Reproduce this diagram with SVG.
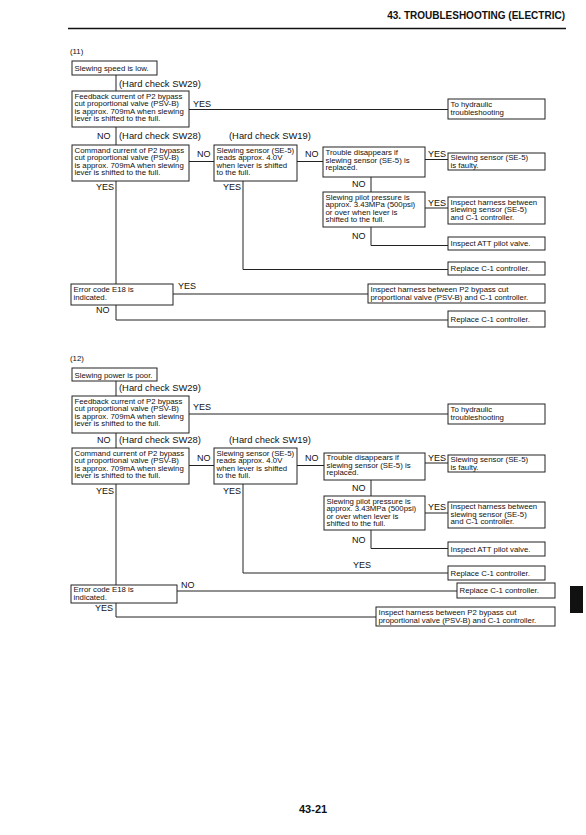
<svg xmlns="http://www.w3.org/2000/svg" width="586" height="835" viewBox="0 0 586 835">
<style>
.box{fill:#fff;stroke:#222;stroke-width:1}
.t{font-family:"Liberation Sans",Arial,sans-serif;font-size:7.8px;fill:#111}
.lbl{font-family:"Liberation Sans",Arial,sans-serif;font-size:9px;fill:#111}
.hc{font-family:"Liberation Sans",Arial,sans-serif;font-size:9.4px;fill:#111}
.conn{fill:none;stroke:#222;stroke-width:1}
.hdr{font-family:"Liberation Sans",Arial,sans-serif;font-weight:bold;fill:#111}
</style>
<rect width="586" height="835" fill="#fff"/>
<g id="header">
<text class="hdr" x="565" y="19" font-size="10" text-anchor="end">43. TROUBLESHOOTING (ELECTRIC)</text>
<line x1="68" y1="28.5" x2="566" y2="28.5" stroke="#111" stroke-width="1.5"/>
</g>
<g id="connectors">
<!-- section 11 -->
<path class="conn" d="M116,75V91"/>
<path class="conn" d="M189,109.5H448"/>
<path class="conn" d="M116,127V145"/>
<path class="conn" d="M189,161.5H214"/>
<path class="conn" d="M297,161.5H323"/>
<path class="conn" d="M425,159.5H448"/>
<path class="conn" d="M371,177V192"/>
<path class="conn" d="M425,208H448"/>
<path class="conn" d="M371,227V245.5H448"/>
<path class="conn" d="M243,181V269.5H448"/>
<path class="conn" d="M116,181V284"/>
<path class="conn" d="M173,294H368"/>
<path class="conn" d="M116,305V320H448"/>
<!-- section 12 -->
<path class="conn" d="M116,381V396"/>
<path class="conn" d="M189,414H448"/>
<path class="conn" d="M116,433V448"/>
<path class="conn" d="M189,465.5H214"/>
<path class="conn" d="M297,465.5H324"/>
<path class="conn" d="M425,463H448"/>
<path class="conn" d="M371,480V496"/>
<path class="conn" d="M425,513H448"/>
<path class="conn" d="M371,530V548.5H448"/>
<path class="conn" d="M243,484V573H448"/>
<path class="conn" d="M116,484V585"/>
<path class="conn" d="M177,591H457"/>
<path class="conn" d="M116,603V617H376"/>
</g>
<g id="labels">
<text class="t" x="70" y="54">(11)</text>
<text class="hc" x="119" y="87">(Hard check SW29)</text>
<text class="lbl" x="193" y="106.5">YES</text>
<text class="lbl" x="97" y="139">NO</text>
<text class="hc" x="119" y="139">(Hard check SW28)</text>
<text class="hc" x="229" y="139">(Hard check SW19)</text>
<text class="lbl" x="197" y="157">NO</text>
<text class="lbl" x="305" y="157">NO</text>
<text class="lbl" x="428" y="157">YES</text>
<text class="lbl" x="352" y="187">NO</text>
<text class="lbl" x="428" y="206">YES</text>
<text class="lbl" x="352" y="239">NO</text>
<text class="lbl" x="96" y="190">YES</text>
<text class="lbl" x="223" y="190">YES</text>
<text class="lbl" x="178" y="288.5">YES</text>
<text class="lbl" x="96" y="313">NO</text>

<text class="t" x="70" y="361">(12)</text>
<text class="hc" x="119" y="391">(Hard check SW29)</text>
<text class="lbl" x="193" y="410">YES</text>
<text class="lbl" x="97" y="443">NO</text>
<text class="hc" x="119" y="443">(Hard check SW28)</text>
<text class="hc" x="229" y="443">(Hard check SW19)</text>
<text class="lbl" x="197" y="461">NO</text>
<text class="lbl" x="305" y="461">NO</text>
<text class="lbl" x="428" y="460.5">YES</text>
<text class="lbl" x="352" y="491">NO</text>
<text class="lbl" x="428" y="510">YES</text>
<text class="lbl" x="352" y="543">NO</text>
<text class="lbl" x="96" y="494">YES</text>
<text class="lbl" x="223" y="494">YES</text>
<text class="lbl" x="353" y="568">YES</text>
<text class="lbl" x="181" y="588">NO</text>
<text class="lbl" x="95" y="611">YES</text>
</g>

<!-- Section 11 nodes -->
<g id="s11-start"><rect class="box" x="72" y="61" width="85" height="14"/><text class="t" x="74.5" y="71">Slewing speed is low.</text></g>
<g id="s11-feedback"><rect class="box" x="72" y="91" width="117" height="36"/>
<text class="t" x="74.5" y="98.5">Feedback current of P2 bypass</text>
<text class="t" x="74.5" y="106">cut proportional valve (PSV-B)</text>
<text class="t" x="74.5" y="113.5">is approx. 709mA when slewing</text>
<text class="t" x="74.5" y="121">lever is shifted to the full.</text></g>
<g id="s11-hydraulic"><rect class="box" x="448" y="99" width="97" height="20"/>
<text class="t" x="450.5" y="106.5">To hydraulic</text>
<text class="t" x="450.5" y="114.5">troubleshooting</text></g>
<g id="s11-command"><rect class="box" x="72" y="145" width="117" height="36"/>
<text class="t" x="74.5" y="152.5">Command current of P2 bypass</text>
<text class="t" x="74.5" y="160">cut proportional valve (PSV-B)</text>
<text class="t" x="74.5" y="167.5">is approx. 709mA when slewing</text>
<text class="t" x="74.5" y="175">lever is shifted to the full.</text></g>
<g id="s11-sensor"><rect class="box" x="214" y="145" width="83" height="36"/>
<text class="t" x="216.5" y="152.5">Slewing sensor (SE-5)</text>
<text class="t" x="216.5" y="160">reads approx. 4.0V</text>
<text class="t" x="216.5" y="167.5">when lever is shifted</text>
<text class="t" x="216.5" y="175">to the full.</text></g>
<g id="s11-trouble"><rect class="box" x="323" y="147" width="102" height="30"/>
<text class="t" x="325.5" y="155">Trouble disappears if</text>
<text class="t" x="325.5" y="162.5">slewing sensor (SE-5) is</text>
<text class="t" x="325.5" y="170">replaced.</text></g>
<g id="s11-faulty"><rect class="box" x="448" y="153" width="97" height="17"/>
<text class="t" x="450.5" y="160">Slewing sensor (SE-5)</text>
<text class="t" x="450.5" y="167.5">is faulty.</text></g>
<g id="s11-pilot"><rect class="box" x="323" y="192" width="102" height="35"/>
<text class="t" x="325.5" y="199.5">Slewing pilot pressure is</text>
<text class="t" x="325.5" y="207">approx. 3.43MPa (500psi)</text>
<text class="t" x="325.5" y="214.5">or over when lever is</text>
<text class="t" x="325.5" y="222">shifted to the full.</text></g>
<g id="s11-harness-sensor"><rect class="box" x="448" y="197" width="97" height="27"/>
<text class="t" x="450.5" y="204.5">Inspect harness between</text>
<text class="t" x="450.5" y="212">slewing sensor (SE-5)</text>
<text class="t" x="450.5" y="219.5">and C-1 controller.</text></g>
<g id="s11-att"><rect class="box" x="448" y="237" width="97" height="13"/>
<text class="t" x="450.5" y="246.3">Inspect ATT pilot valve.</text></g>
<g id="s11-replace1"><rect class="box" x="448" y="262" width="97" height="13"/>
<text class="t" x="450.5" y="271.3">Replace C-1 controller.</text></g>
<g id="s11-error"><rect class="box" x="71" y="284" width="102" height="21"/>
<text class="t" x="73.5" y="291.5">Error code E18 is</text>
<text class="t" x="73.5" y="299.5">indicated.</text></g>
<g id="s11-harness-psv"><rect class="box" x="368" y="284" width="177" height="19"/>
<text class="t" x="370.5" y="291.5">Inspect harness between P2 bypass cut</text>
<text class="t" x="370.5" y="299.5">proportional valve (PSV-B) and C-1 controller.</text></g>
<g id="s11-replace2"><rect class="box" x="448" y="311" width="97" height="16"/>
<text class="t" x="450.5" y="321.5">Replace C-1 controller.</text></g>

<!-- Section 12 nodes -->
<g id="s12-start"><rect class="box" x="72" y="368" width="85" height="13"/><text class="t" x="74.5" y="377.5">Slewing power is poor.</text></g>
<g id="s12-feedback"><rect class="box" x="72" y="396" width="117" height="37"/>
<text class="t" x="74.5" y="403.5">Feedback current of P2 bypass</text>
<text class="t" x="74.5" y="411">cut proportional valve (PSV-B)</text>
<text class="t" x="74.5" y="418.5">is approx. 709mA when slewing</text>
<text class="t" x="74.5" y="426">lever is shifted to the full.</text></g>
<g id="s12-hydraulic"><rect class="box" x="448" y="404" width="97" height="20"/>
<text class="t" x="450.5" y="411.5">To hydraulic</text>
<text class="t" x="450.5" y="419.5">troubleshooting</text></g>
<g id="s12-command"><rect class="box" x="72" y="448" width="117" height="36"/>
<text class="t" x="74.5" y="455.5">Command current of P2 bypass</text>
<text class="t" x="74.5" y="463">cut proportional valve (PSV-B)</text>
<text class="t" x="74.5" y="470.5">is approx. 709mA when slewing</text>
<text class="t" x="74.5" y="478">lever is shifted to the full.</text></g>
<g id="s12-sensor"><rect class="box" x="214" y="448" width="83" height="36"/>
<text class="t" x="216.5" y="455.5">Slewing sensor (SE-5)</text>
<text class="t" x="216.5" y="463">reads approx. 4.0V</text>
<text class="t" x="216.5" y="470.5">when lever is shifted</text>
<text class="t" x="216.5" y="478">to the full.</text></g>
<g id="s12-trouble"><rect class="box" x="324" y="453" width="101" height="27"/>
<text class="t" x="326.5" y="460">Trouble disappears if</text>
<text class="t" x="326.5" y="467.5">slewing sensor (SE-5) is</text>
<text class="t" x="326.5" y="475">replaced.</text></g>
<g id="s12-faulty"><rect class="box" x="448" y="455" width="97" height="17"/>
<text class="t" x="450.5" y="462">Slewing sensor (SE-5)</text>
<text class="t" x="450.5" y="469.5">is faulty.</text></g>
<g id="s12-pilot"><rect class="box" x="324" y="496" width="101" height="34"/>
<text class="t" x="326.5" y="503.5">Slewing pilot pressure is</text>
<text class="t" x="326.5" y="511">approx. 3.43MPa (500psi)</text>
<text class="t" x="326.5" y="518.5">or over when lever is</text>
<text class="t" x="326.5" y="526">shifted to the full.</text></g>
<g id="s12-harness-sensor"><rect class="box" x="448" y="502" width="97" height="26"/>
<text class="t" x="450.5" y="509">Inspect harness between</text>
<text class="t" x="450.5" y="516.5">slewing sensor (SE-5)</text>
<text class="t" x="450.5" y="524">and C-1 controller.</text></g>
<g id="s12-att"><rect class="box" x="448" y="542" width="97" height="14"/>
<text class="t" x="450.5" y="551.7">Inspect ATT pilot valve.</text></g>
<g id="s12-replace1"><rect class="box" x="448" y="566" width="97" height="14"/>
<text class="t" x="450.5" y="575.7">Replace C-1 controller.</text></g>
<g id="s12-error"><rect class="box" x="71" y="585" width="106" height="18"/>
<text class="t" x="73.5" y="592">Error code E18 is</text>
<text class="t" x="73.5" y="600">indicated.</text></g>
<g id="s12-replace2"><rect class="box" x="457" y="583" width="98" height="15"/>
<text class="t" x="459.5" y="593.3">Replace C-1 controller.</text></g>
<g id="s12-harness-psv"><rect class="box" x="376" y="607" width="179" height="19"/>
<text class="t" x="378.5" y="614.5">Inspect harness between P2 bypass cut</text>
<text class="t" x="378.5" y="622.5">proportional valve (PSV-B) and C-1 controller.</text></g>

<g id="footer">
<rect x="570" y="586" width="13" height="27" fill="#111"/>
<text class="hdr" x="299" y="813" font-size="11">43-21</text>
</g>
</svg>
